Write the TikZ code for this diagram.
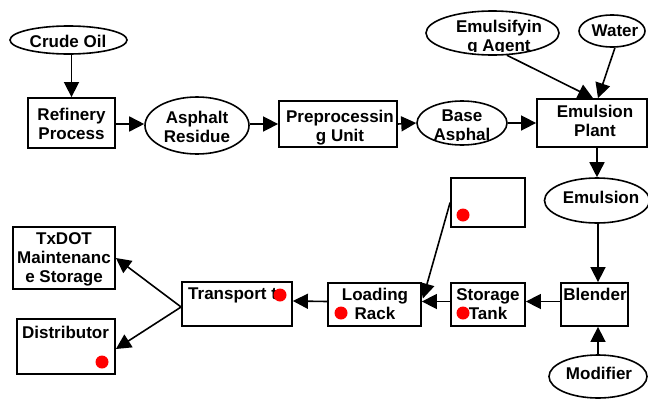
\documentclass[tikz,border=0pt]{standalone}
\usepackage{fontspec}
\setmainfont{Liberation Sans}
\usetikzlibrary{arrows.meta,calc,shapes.geometric}
\begin{document}
\begin{tikzpicture}[x=1pt,y=-1pt,
  box/.style={draw,line width=1.8pt,inner sep=0,rectangle},
  ell/.style={draw,line width=1.6pt,inner sep=0,ellipse},
  txt/.style={font=\fontsize{17}{19}\selectfont\bfseries,align=center,inner sep=0},
  arr/.style={line width=1.6pt,-{Triangle[length=15pt,width=15pt]}},
  rdot/.style={circle,fill=red,inner sep=0,minimum size=13pt}]
\useasboundingbox[fill=white] (0,0) rectangle (648,399);

% shapes
\node[ell,minimum width=117pt,minimum height=28pt] (crude) at (68.5,40) {};
\node[box,minimum width=87pt,minimum height=50pt] (ref) at (71.5,123) {};
\node[ell,minimum width=104pt,minimum height=57pt] (asph) at (197,125.5) {};
\node[box,minimum width=118pt,minimum height=46pt] (pre) at (338,124) {};
\node[ell,minimum width=90pt,minimum height=44pt] (base) at (462,123) {};
\node[ell,minimum width=133pt,minimum height=44pt] (emag) at (492.5,33) {};
\node[ell,minimum width=66pt,minimum height=32pt] (water) at (612,31) {};
\node[box,minimum width=110pt,minimum height=48pt] (plant) at (592,123) {};
\node[ell,minimum width=105pt,minimum height=45pt] (emul) at (597,200.5) {};
\node[box,minimum width=67pt,minimum height=43pt] (blend) at (594.5,304.5) {};
\node[ell,minimum width=98pt,minimum height=43pt] (modi) at (598,376.5) {};
\node[box,minimum width=74pt,minimum height=43pt] (stor) at (488,304.5) {};
\node[box,minimum width=74pt,minimum height=49pt] (empty) at (488,202.5) {};
\node[box,minimum width=93pt,minimum height=43pt] (load) at (374.5,304.5) {};
\node[box,minimum width=110pt,minimum height=44pt] (trans) at (237,304) {};
\node[box,minimum width=102pt,minimum height=62pt] (txdot) at (64,258) {};
\node[box,minimum width=98pt,minimum height=55pt] (dist) at (66,346.5) {};

% texts
\node[txt] (t-crude) at (68,41) {Crude Oil};
\node[txt] (t-ref) at (71.5,124) {Refinery\\Process};
\node[txt] (t-asph) at (197,127) {Asphalt\\Residue};
\node[txt] (t-pre) at (340,127.5) {Preprocessin\\g Unit};
\begin{scope}
  \clip (410,100) rectangle (515,140);
  \node[txt] (t-base) at (462,127) {Base\\Asphal};
\end{scope}
\begin{scope}
  \clip (420,5) rectangle (570,51);
  \node[txt] (t-emag) at (499,37.5) {Emulsifyin\\g Agent};
\end{scope}
\node[txt] (t-water) at (615,31) {Water};
\node[txt] (t-plant) at (595,120.5) {Emulsion\\Plant};
\node[txt] (t-emul) at (601,197) {Emulsion};
\node[txt] (t-blend) at (595,294) {Blender};
\node[txt] (t-modi) at (599,373) {Modifier};
\node[txt] (t-stor) at (488,304) {Storage\\Tank};
\node[txt] (t-load) at (375,304) {Loading\\Rack};
\node[txt,anchor=west] (t-trans) at (188,295) {Transport t};
\node[txt] (t-txdot) at (64,259) {TxDOT\\Maintenanc\\e Storage};
\node[txt] (t-dist) at (65.5,332) {Distributor};

% red dots
\node[rdot] (d1) at (280,295) {};
\node[rdot] (d2) at (463,313) {};
\node[rdot] (d3) at (341,313) {};
\node[rdot] (d4) at (463,215) {};
\node[rdot] (d5) at (102,362) {};

% connectors
\draw[arr] (ref.north |- crude.south) -- (ref.north);
\draw[arr] ([yshift=-1pt]ref.east) -- ([yshift=-1pt]ref.east -| asph.west);
\draw[arr] ([yshift=1.5pt]asph.east) -- ([yshift=1.5pt]asph.east -| pre.west);
\draw[arr] (pre.east) -- (base.west);
\draw[arr] (base.east) -- (base.east -| plant.west);
\draw[arr] (emag.-57) -- ([xshift=1pt]plant.north);
\draw[arr] (water.-80) -- ([xshift=6pt]plant.north);
\draw[arr] ([xshift=5pt]plant.south) -- ([xshift=5pt]plant.south |- emul.north);
\draw[arr] ([xshift=1pt]emul.south) -- ([xshift=1pt]emul.south |- blend.north);
\draw[arr] (modi.north) -- (modi.north |- blend.south);
\draw[arr] ([yshift=3pt]blend.west) -- ([yshift=3pt]stor.east);
\draw[arr] ([yshift=3pt]stor.west) -- ([yshift=3pt]load.east);
\draw[arr] (empty.west) -- ([xshift=1pt,yshift=6pt]load.east);
\draw[arr] ([yshift=3pt]load.west) -- ([yshift=3pt]trans.east);
\draw[arr] ([yshift=-3pt]trans.west) -- (txdot.east);
\draw[arr] ([yshift=-3pt]trans.west) -- ([yshift=-2.5pt]dist.east);
\end{tikzpicture}
\end{document}
